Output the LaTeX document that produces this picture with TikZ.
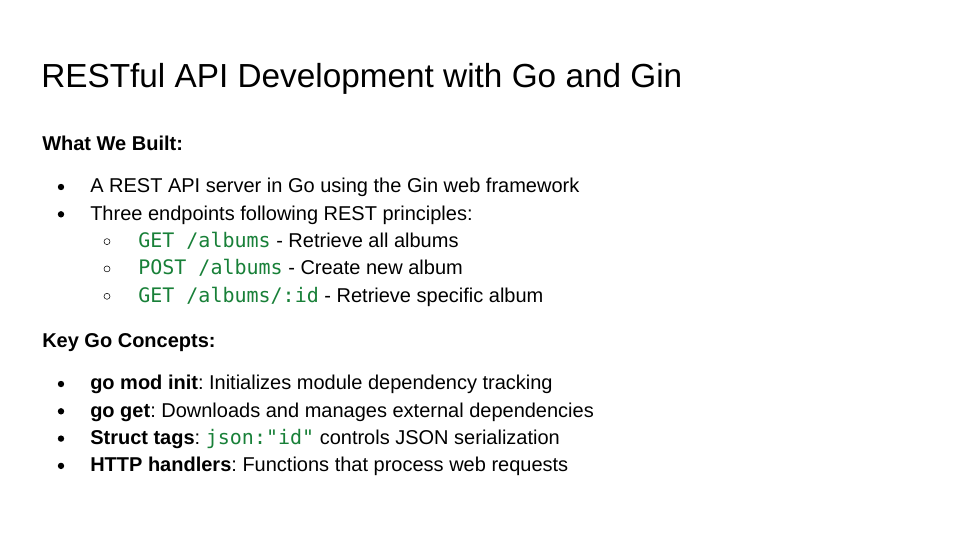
\documentclass[tikz,border=0pt]{standalone}
\usepackage{fontspec}
\setmainfont{Liberation Sans}
\setmonofont{DejaVu Sans Mono}
\frenchspacing
\definecolor{codegreen}{HTML}{188038}
\newcommand{\gocode}[1]{\textcolor{codegreen}{\texttt{#1}}}
\tikzset{
  slidetitle/.style={anchor=base west, inner sep=0pt, font=\fontsize{25}{29}\selectfont},
  heading/.style={anchor=base west, inner sep=0pt, font=\bfseries\fontsize{15}{18}\selectfont},
  item/.style={anchor=base west, inner sep=0pt, font=\fontsize{15}{18}\selectfont}
}
\begin{document}
\begin{tikzpicture}[x=0.75pt,y=-0.75pt]
        \useasboundingbox (0,0) rectangle (960,540);
        \node [slidetitle] (title) at (41,87.3) {RESTful API Development with Go and Gin};
        \node [heading] (built) at (42,150) {What We Built:};
        \node [item] (server) at (90,192.7) {A REST API server in Go using the Gin web framework};
        \node [item] (three) at (90,220) {Three endpoints following REST principles:};
        \node [item] (getall) at (138,247.3) {\gocode{GET /albums} - Retrieve all albums};
        \node [item] (post) at (138,274.6) {\gocode{POST /albums} - Create new album};
        \node [item] (getid) at (138,302) {\gocode{GET /albums/:id} - Retrieve specific album};
        \node [heading] (concepts) at (42,347) {Key Go Concepts:};
        \node [item] (modinit) at (90,389.7) {\textbf{go mod init}: Initializes module dependency tracking};
        \node [item] (goget) at (90,417) {\textbf{go get}: Downloads and manages external dependencies};
        \node [item] (tags) at (90,444.3) {\textbf{Struct tags}: \gocode{json:"id"} controls JSON serialization};
        \node [item] (handlers) at (90,471.6) {\textbf{HTTP handlers}: Functions that process web requests};
        % bullets
        \fill [black] (61,187) circle (3.2);
        \fill [black] (61,214.3) circle (3.2);
        \draw [black] (107,241.6) circle (3);
        \draw [black] (107,268.9) circle (3);
        \draw [black] (107,296.3) circle (3);
        \fill [black] (61,384) circle (3.2);
        \fill [black] (61,411.3) circle (3.2);
        \fill [black] (61,438.6) circle (3.2);
        \fill [black] (61,465.9) circle (3.2);
        \end{tikzpicture}
\end{document}
